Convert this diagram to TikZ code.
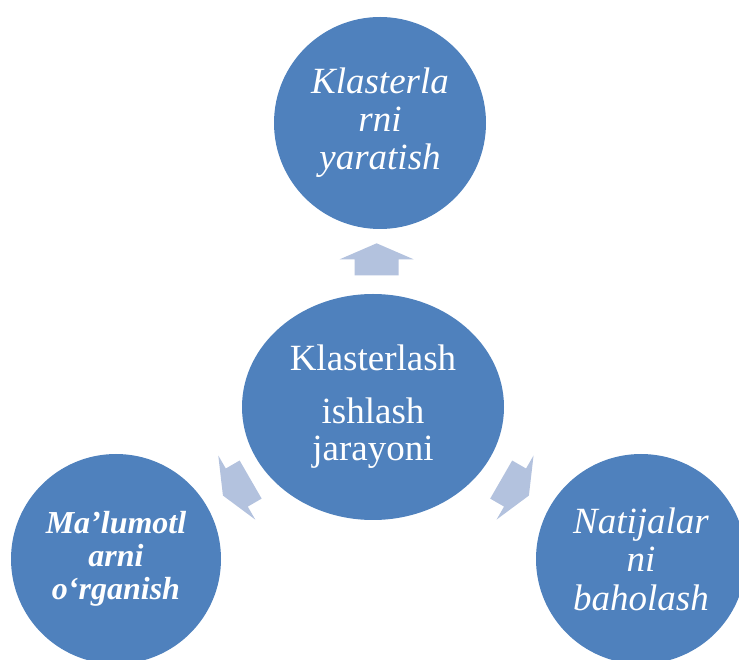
\documentclass[tikz,border=0pt]{standalone}
\usepackage{fontspec}
\setmainfont{Liberation Serif}
\usetikzlibrary{shapes.geometric, calc}
\definecolor{bubbleblue}{RGB}{79,129,189}
\definecolor{arrowblue}{RGB}{179,194,222}
\tikzset{
    bubble/.style={circle, fill=bubbleblue, text=white, align=center, inner sep=0pt, minimum size=212pt},
    blockarrow/.pic={\fill[arrowblue] (16,0) -- (0,37) -- (0,22) -- (-16,22) -- (-16,-22) -- (0,-22) -- (0,-37) -- cycle;}
}

\begin{document}
\begin{tikzpicture}[x=1pt, y=1pt]
    \useasboundingbox (0,0) rectangle (739,659);
    \clip (0,0) rectangle (739,659);
    \node[bubble, ellipse, minimum width=262pt, minimum height=226pt, font=\fontsize{37}{37}\selectfont] (core) at (373,252) {Klasterlash\\[16pt]ishlash\\jarayoni};
    \node[bubble, font=\fontsize{37}{38}\selectfont\itshape] (top) at (380,536) {Klasterla\\rni\\yaratish};
    \node[bubble, minimum size=210pt, font=\fontsize{32}{33}\selectfont\bfseries\itshape] (left) at (116,100) {Ma’lumotl\\arni\\o‘rganish};
    \node[bubble, minimum size=210pt, font=\fontsize{37}{38.5}\selectfont\itshape] (right) at (641,100) {Natijalar\\ni\\baholash};
    \pic[rotate=90] at ($(core)!0.52!(top)$) {blockarrow};
    \pic[rotate=210] at ($(core)!0.53!(left)$) {blockarrow};
    \pic[rotate=330] at ($(core)!0.53!(right)$) {blockarrow};
\end{tikzpicture}
\end{document}
